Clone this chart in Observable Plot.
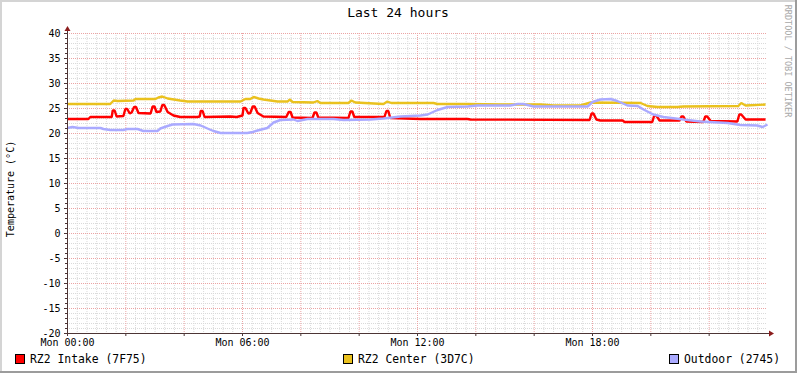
<!DOCTYPE html>
<html><head><meta charset="utf-8">
<script src="https://cdn.jsdelivr.net/npm/d3@7"></script>
<script src="https://cdn.jsdelivr.net/npm/@observablehq/plot@0.6"></script>
<style>html,body{margin:0;padding:0;background:#fff} svg{display:block}</style>
</head><body><div id="chart"></div>
<script>
const title = "Last 24 hours";
const yTitle = "Temperature (°C)";
const watermark = "RRDTOOL / TOBI OETIKER";
const seriesNames = ["RZ2 Intake (7F75)", "RZ2 Center (3D7C)", "Outdoor (2745)"];
const seriesColors = ["#ff0000", "#eac11e", "#aaaaff"];

// time in minutes since Mon 00:00, values in °C
const intakeMin = [0,43,47,91,93,97,101,115,119,123,128,132,137,141,146,171,175,179,183,191,195,199,206,218,232,267,272,274,278,282,335,348,360,362,366,372,376,381,385,391,403,450,455,459,463,504,508,512,516,578,582,586,590,652,656,660,664,726,823,829,1074,1078,1082,1088,1096,1142,1146,1203,1207,1211,1218,1259,1263,1267,1273,1308,1312,1316,1323,1378,1382,1386,1395,1436];
const intakeVal = [22.9,22.9,23.3,23.3,24.6,24.6,23.4,23.5,24.9,24.9,24.0,24.2,25.3,25.3,24.1,24.0,25.4,25.4,24.3,24.4,25.7,25.7,24.3,23.6,23.3,23.3,23.4,24.5,24.5,23.3,23.4,23.3,23.6,25.1,25.1,24.0,24.1,25.4,25.4,24.1,23.4,23.3,24.3,24.3,23.2,23.1,24.2,24.2,23.2,23.1,24.4,24.4,23.3,23.3,24.5,24.5,23.1,22.9,22.9,22.8,22.7,24.0,24.0,22.8,22.6,22.6,22.3,22.3,23.6,23.6,22.6,22.6,23.4,23.4,22.4,22.3,23.4,23.4,22.5,22.4,23.8,23.8,22.8,22.8];

const centerMin = [0,88,95,103,136,140,181,187,195,206,232,247,356,366,376,383,393,403,432,453,457,463,506,514,520,578,584,592,650,658,666,685,753,761,823,891,973,1000,1055,1076,1179,1193,1214,1255,1267,1380,1386,1395,1436];
const centerVal = [25.9,25.9,26.6,26.5,26.6,26.9,26.9,27.2,27.4,27.0,26.6,26.4,26.4,26.9,26.9,27.3,27.0,26.8,26.4,26.4,26.8,26.3,26.2,26.5,26.1,26.1,26.6,26.2,25.9,26.4,26.1,26.1,26.1,25.9,25.9,25.8,25.8,25.6,25.6,26.2,26.1,25.5,25.3,25.3,25.4,25.5,26.1,25.6,25.8];

const outdoorMin = [0,10,23,68,74,88,115,123,144,156,185,191,206,216,259,274,288,300,315,370,381,391,411,424,438,465,473,494,547,568,623,650,685,726,741,761,782,823,843,911,926,938,959,1070,1080,1096,1117,1131,1152,1173,1185,1205,1226,1267,1302,1358,1384,1419,1430,1440];
const outdoorVal = [21.1,21.3,21.1,21.1,20.9,20.7,20.7,20.9,20.9,20.5,20.5,21.0,21.5,21.8,21.9,21.6,21.0,20.5,20.1,20.1,20.3,20.6,21.1,22.2,22.7,22.8,22.5,22.9,22.9,22.7,22.8,23.0,23.4,23.6,23.8,24.7,25.3,25.4,25.6,25.6,25.9,25.9,25.4,25.4,26.3,26.8,26.9,26.5,25.6,25.5,24.8,23.8,23.3,22.8,22.4,22.1,21.7,21.6,21.3,21.8];

const xLabelMin = [0, 360, 720, 1080];
const xLabels = ["Mon 00:00", "Mon 06:00", "Mon 12:00", "Mon 18:00"];
const yTicks = [-20,-15,-10,-5,0,5,10,15,20,25,30,35,40];

const xMajor = d3.range(0, 1440, 120);
const xMinor = d3.range(0, 1440, 20).filter(d => d % 120 !== 0);
const yMinor = d3.range(-19, 41, 1).filter(d => d % 5 !== 0);
const yMajorGrid = yTicks.filter(d => d > -20);

const rows = [];
[[intakeMin, intakeVal], [centerMin, centerVal], [outdoorMin, outdoorVal]].forEach(([ms, vs], s) => {
  ms.forEach((m, i) => rows.push({t: m, v: vs[i], series: seriesNames[s]}));
});

const axisColor = "#4d3535";
const font = "'DejaVu Sans Mono', monospace";

const chart = Plot.plot({
  width: 797, height: 373,
  marginLeft: 67, marginRight: 30, marginTop: 33, marginBottom: 40,
  style: {background: "#ffffff", fontFamily: font, fontSize: "10px", color: "#000"},
  x: {domain: [0, 1440]},
  y: {domain: [-20, 40]},
  color: {domain: seriesNames, range: seriesColors},
  marks: [
    Plot.ruleX(xMinor, {stroke: "#dadada", strokeDasharray: "1,1"}),
    Plot.ruleY(yMinor, {stroke: "#dadada", strokeDasharray: "1,1"}),
    Plot.ruleX(xMajor.filter(d => d > 0), {stroke: "#eca4a4", strokeDasharray: "1,1"}),
    Plot.ruleY(yMajorGrid, {stroke: "#eca4a4", strokeDasharray: "1,1"}),
    Plot.line(rows, {x: "t", y: "v", z: "series", stroke: "series", strokeWidth: 2.4, strokeLinejoin: "miter", strokeLinecap: "butt"}),
    Plot.axisY({ticks: yMinor, tickSize: 2, tickFormat: () => "", stroke: axisColor, label: null}),
    Plot.axisY({ticks: yTicks, tickSize: 3, tickPadding: 4, tickFormat: d => String(d), stroke: axisColor, fill: "#000", fontSize: 10, label: null}),
    Plot.axisX({ticks: xMajor, tickSize: 3, tickFormat: () => "", stroke: axisColor, label: null}),
    Plot.axisX({ticks: xLabelMin, tickSize: 0, tickPadding: 5, tickFormat: d => xLabels[xLabelMin.indexOf(d)], fill: "#000", fontSize: 10, label: null})
  ]
});

document.getElementById("chart").appendChild(chart);

const svg = d3.select(chart);
const sx = chart.scale("x"), sy = chart.scale("y");
const X0 = sx.apply(0), X1 = sx.apply(1440), Y0 = sy.apply(-20), Y1 = sy.apply(40);
const W = 797, H = 373;

// axes lines and arrows
const g = svg.append("g");
g.append("line").attr("x1", X0 - 2).attr("x2", X1 + 2).attr("y1", Y0 + 0.5).attr("y2", Y0 + 0.5).attr("stroke", axisColor);
g.append("line").attr("x1", X0 + 0.5).attr("x2", X0 + 0.5).attr("y1", Y0 + 2).attr("y2", Y1 - 2).attr("stroke", axisColor);
g.append("path").attr("d", `M${X1 + 2},${Y0 - 2.5}L${X1 + 7},${Y0 + 0.5}L${X1 + 2},${Y0 + 3.5}Z`).attr("fill", "#8b1c1c");
g.append("path").attr("d", `M${X0 - 2.5},${Y1 - 2}L${X0 + 0.5},${Y1 - 7}L${X0 + 3.5},${Y1 - 2}Z`).attr("fill", "#8b1c1c");

// frame shading
svg.append("path").attr("d", `M0,0H${W}V2H2V${H}H0Z`).attr("fill", "#d4d4d4");
svg.append("path").attr("d", `M${W},0V${H}H0V${H - 2}H${W - 2}V0Z`).attr("fill", "#9c9c9c");

// title
svg.append("text").attr("x", 398).attr("y", 17).attr("text-anchor", "middle")
  .attr("font-family", font).attr("font-size", 13).attr("fill", "#000").text(title);

// y title
svg.append("text").attr("transform", `translate(14,${(Y0 + Y1) / 2 + 6}) rotate(-90)`).attr("text-anchor", "middle")
  .attr("font-family", font).attr("font-size", 10).attr("fill", "#000").text(yTitle);

// watermark
svg.append("text").attr("transform", `translate(784.5,61) rotate(90)`).attr("text-anchor", "middle")
  .attr("font-family", font).attr("font-size", 8.5).attr("fill", "#a8a8a8").text(watermark);

// legend
const legendX = [15, 343, 669];
seriesNames.forEach((name, i) => {
  svg.append("rect").attr("x", legendX[i] + 0.5).attr("y", 354.5).attr("width", 9).attr("height", 9)
    .attr("fill", seriesColors[i]).attr("stroke", "#000").attr("stroke-width", 1);
  svg.append("text").attr("x", legendX[i] + 15).attr("y", 363).attr("text-anchor", "start")
    .attr("font-family", font).attr("font-size", 11.4).attr("fill", "#000").text(name);
});
</script>
</body></html>
